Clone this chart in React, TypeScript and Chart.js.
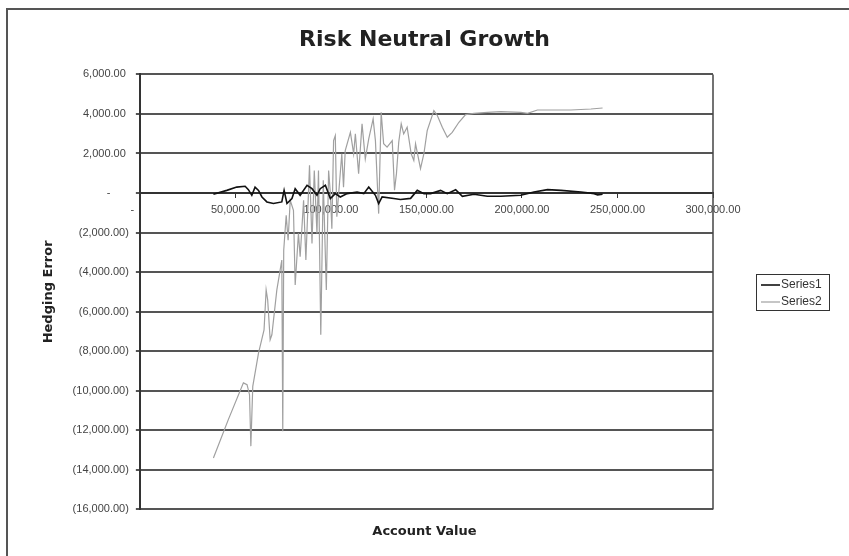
import React, { useEffect, useRef } from 'react';
import { Chart, registerables } from 'chart.js';

Chart.register(...registerables);

const chartTitle = 'Risk Neutral Growth';
const xTitle = 'Account Value';
const yTitle = 'Hedging Error';
const seriesNames = ['Series1', 'Series2'];

const xMin = 0;
const xMax = 300000;
const xStep = 50000;
const yMin = -16000;
const yMax = 6000;
const yStep = 2000;

const series1X = [
  38500, 45500, 50700, 55100, 56800, 58600, 60300, 62100, 63900, 66500, 69900, 74300, 75500, 77000,
  79600, 81300, 83900, 87500, 90100, 92700, 94400, 97100, 99700, 102300, 104900, 108500, 113700,
  117200, 119800, 123300, 125000, 126800, 132900, 136400, 141700, 145200, 148700, 152200, 157400,
  160900, 165300, 168800, 174900, 181900, 188900, 199400, 206300, 213400, 220400, 230900, 237800,
  239600, 242200,
];
const series1Y = [
  -65, 135, 300, 340, 170, -115, 300, 135, -200, -450, -530, -450, 135, -530,
  -280, 220, -115, 390, 220, -115, 220, 390, -280, -30, -200, -30, 50,
  -30, 300, -115, -530, -200, -280, -330, -270, 135, -30, -30, 135,
  -30, 170, -165, -65, -165, -165, -115, 50, 170, 135, 50, -30,
  -90, -65,
];

const series2X = [
  38500, 46300, 54200, 56100, 57400, 58100, 59100, 62100, 65000, 66100, 66900, 68200, 69100, 71700,
  74300, 74800, 75300, 76600, 77600, 78700, 80400, 81300, 83000, 83900, 85700, 86900, 88800, 90100,
  91300, 92700, 93500, 94700, 96000, 97600, 98800, 99700, 100500, 101400, 102300, 103100, 105700,
  106600, 107500, 110200, 111900, 112800, 114500, 116300, 118000, 119800, 122100, 123300, 125000,
  126300, 127600, 129400, 132100, 133300, 134300, 135500, 136800, 138100, 139900, 142000, 143400,
  144300, 146900, 148700, 150400, 153900, 155700, 158300, 160900, 163500, 167000, 170500, 174900,
  181900, 188900, 199400, 202900, 208100, 225600, 236100, 242200,
];
const series2Y = [
  -13400, -11460, -9600, -9690, -10200, -12800, -9780, -8100, -6920, -4900, -5400, -7420, -7170, -4900,
  -3390, -12050, -2890, -1120, -2380, -370, -870, -4650, -2030, -3220, -370, -3390, 1400, -2550,
  1140, -2050, 1140, -7170, 640, -4900, 1140, 0, -1800, 2650, 2900, -1200, 1990,
  300, 2150, 3070, 1990, 3000, 980, 3500, 1730, 2740, 3750, 2650, -1040,
  4080, 2490, 2320, 2650, 140, 980, 2570, 3500, 2990, 3330, 1990, 1650,
  2490, 1230, 2000, 3160, 4170, 3920, 3330, 2820, 3070, 3580, 3970, 4030,
  4080, 4120, 4080, 4030, 4200, 4200, 4250, 4300,
];

const fmtNum = (v: number): string => {
  const s = Math.abs(v).toFixed(2);
  const [i, d] = s.split('.');
  return i.replace(/\B(?=(\d{3})+(?!\d))/g, ',') + '.' + d;
};
const yLabel = (v: number): string => (v === 0 ? '-      ' : v < 0 ? `(${fmtNum(v)})` : `${fmtNum(v)} `);
const xLabel = (v: number): string => (v === 0 ? '-     ' : fmtNum(v));

const tickFont = { family: '"Liberation Sans", Arial, sans-serif', size: 11 };
const boldFont = (size: number) => ({ family: '"DejaVu Sans", Verdana, sans-serif', size, weight: 'bold' as const });

const framePlugin = {
  id: 'frameAndLegend',
  afterDraw(chart: any) {
    const { ctx, chartArea } = chart;
    ctx.save();
    ctx.strokeStyle = '#444';
    ctx.lineWidth = 1.5;
    ctx.beginPath();
    ctx.moveTo(chartArea.right, chartArea.top);
    ctx.lineTo(chartArea.right, chartArea.bottom);
    ctx.stroke();

    const bw = 73;
    const bh = 36;
    const bx = Math.round(chartArea.right + 43);
    const by = Math.round((chartArea.top + chartArea.bottom) / 2 - bh / 2);
    ctx.strokeStyle = '#333';
    ctx.lineWidth = 1;
    ctx.strokeRect(bx + 0.5, by + 0.5, bw, bh);
    chart.data.datasets.forEach((ds: any, i: number) => {
      const y = by + 11 + i * 17;
      ctx.strokeStyle = ds.borderColor;
      ctx.lineWidth = i === 0 ? 1.6 : 1.2;
      ctx.beginPath();
      ctx.moveTo(bx + 5, y);
      ctx.lineTo(bx + 24, y);
      ctx.stroke();
      ctx.fillStyle = '#333';
      ctx.font = '12px "Liberation Sans", Arial, sans-serif';
      ctx.textBaseline = 'middle';
      ctx.textAlign = 'left';
      ctx.fillText(ds.label, bx + 25, y);
    });
    ctx.restore();
  },
};

export default function App() {
  const canvasRef = useRef<HTMLCanvasElement | null>(null);

  useEffect(() => {
    if (!canvasRef.current) return;
    const chart = new Chart(canvasRef.current, {
      type: 'scatter',
      data: {
        datasets: [
          {
            label: seriesNames[0],
            data: series1X.map((x, i) => ({ x, y: series1Y[i] })),
            showLine: true,
            borderColor: '#111111',
            borderWidth: 1.6,
            pointRadius: 0,
            pointHoverRadius: 0,
          },
          {
            label: seriesNames[1],
            data: series2X.map((x, i) => ({ x, y: series2Y[i] })),
            showLine: true,
            borderColor: '#a0a0a0',
            borderWidth: 1.2,
            pointRadius: 0,
            pointHoverRadius: 0,
          },
        ],
      },
      options: {
        animation: false,
        responsive: false,
        events: [],
        layout: { padding: { left: 0, right: 0, top: 0, bottom: 0 } },
        plugins: {
          legend: { display: false },
          tooltip: { enabled: false },
          title: {
            display: true,
            text: chartTitle,
            color: '#222',
            font: boldFont(22),
            padding: { top: 27, bottom: 21 },
          },
          subtitle: {
            display: true,
            position: 'bottom',
            text: xTitle,
            color: '#222',
            font: boldFont(13),
            padding: { top: 14, bottom: 17 },
          },
        },
        scales: {
          x: {
            type: 'linear',
            position: { y: 0 } as any,
            min: xMin,
            max: xMax,
            ticks: {
              stepSize: xStep,
              callback: (v: any) => xLabel(Number(v)),
              font: tickFont,
              color: '#444',
              padding: 6,
              maxRotation: 0,
              autoSkip: false,
            },
            grid: { drawOnChartArea: false, drawTicks: true, tickLength: 4, color: '#333', lineWidth: 1 },
            border: { display: true, color: '#333', width: 2 },
          },
          y: {
            type: 'linear',
            min: yMin,
            max: yMax,
            ticks: {
              stepSize: yStep,
              callback: (v: any) => yLabel(Number(v)),
              font: tickFont,
              color: '#444',
              padding: 7,
            },
            grid: { color: '#555', lineWidth: 2, tickLength: 4 },
            border: { color: '#333', width: 2 },
            title: {
              display: true,
              text: yTitle,
              color: '#222',
              font: boldFont(13),
              padding: { top: 41, bottom: 9 },
            },
          },
          legendSpace: {
            type: 'linear',
            position: 'right',
            display: true,
            ticks: { display: false },
            grid: { display: false, drawTicks: false },
            border: { display: false },
            afterFit: (s: any) => {
              s.width = 136;
            },
          } as any,
        },
      },
      plugins: [framePlugin],
    });
    return () => chart.destroy();
  }, []);

  return (
    <div style={{ position: 'fixed', left: 0, top: 0, width: 849, height: 556, background: '#fff' }}>
      <div
        style={{
          position: 'absolute',
          left: 6,
          top: 8,
          width: 843,
          height: 548,
          borderTop: '2px solid #555',
          borderLeft: '2px solid #555',
          boxSizing: 'border-box',
        }}
      />
      <canvas
        ref={canvasRef}
        width={849}
        height={556}
        style={{ position: 'absolute', left: 0, top: 0, width: 849, height: 556 }}
      />
    </div>
  );
}
